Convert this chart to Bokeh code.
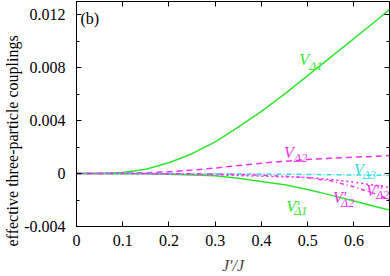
import math
from bokeh.plotting import figure
from bokeh.models import (LinearAxis, FixedTicker, Range1d, Label, Title, ColumnDataSource)
from bokeh.core.properties import value
from bokeh.embed import file_html
from bokeh.resources import INLINE

# ---- data ----
jp = [0, 0.05, 0.1, 0.15, 0.2, 0.25, 0.3, 0.35, 0.4, 0.45, 0.5, 0.55, 0.6, 0.65, 0.677]
v_d1 = [0, 0.00001, 0.00008, 0.00033, 0.00082, 0.0015, 0.0024, 0.0035, 0.0047, 0.0060, 0.0074, 0.0088, 0.0102, 0.0116, 0.0124]
v_d2 = [0, 0, 0.00002, 0.00006, 0.00014, 0.00026, 0.00042, 0.0006, 0.00078, 0.00093, 0.00106, 0.00116, 0.00124, 0.00131, 0.00136]
v_d3 = [0, 0, 0, 0, 0, -0.00001, -0.00002, -0.00003, -0.00004, -0.00005, -0.00007, -0.00009, -0.00011, -0.00013, -0.00014]
vpp_d2 = [0, 0, 0, -0.00001, -0.00003, -0.00006, -0.0001, -0.00015, -0.0002, -0.00025, -0.0003, -0.00045, -0.00065, -0.0009, -0.00105]
vp_d2 = [0, 0, 0, 0, -0.00001, -0.00002, -0.00004, -0.00007, -0.00012, -0.0002, -0.00032, -0.00055, -0.001, -0.00158, -0.00197]
vp_d1 = [0, 0, -0.00001, -0.00002, -0.00005, -0.0001, -0.00016, -0.00035, -0.0006, -0.00085, -0.0012, -0.00163, -0.00208, -0.00252, -0.00275]

x_ticks = [0, 0.1, 0.2, 0.3, 0.4, 0.5, 0.6]
y_ticks = [-0.004, 0, 0.004, 0.008, 0.012]
y_minor = [-0.002, 0.002, 0.006, 0.010]
y_tick_labels = {-0.004: "-0.004", 0: "0", 0.004: "0.004", 0.008: "0.008", 0.012: "0.012"}

GREEN = "#2ee62e"
MAGENTA = "#ee33ee"
CYAN = "#33dddd"
FONT = "Liberation Serif"

p = figure(width=390, height=276, output_backend="svg", toolbar_location=None,
           x_range=Range1d(0, 0.677), y_range=Range1d(-0.004, 0.013),
           min_border_left=74, min_border_right=1, min_border_top=1, min_border_bottom=48)
p.background_fill_color = "white"
p.border_fill_color = "white"
p.outline_line_color = "black"
p.outline_line_width = 1
p.xgrid.visible = False
p.ygrid.visible = False

def style_axis(ax, labels=True):
    ax.major_tick_in = 5
    ax.major_tick_out = 0
    ax.minor_tick_in = 3
    ax.minor_tick_out = 0
    ax.axis_line_color = "black"
    ax.major_tick_line_color = "black"
    ax.minor_tick_line_color = "black"
    ax.major_label_text_font = FONT
    ax.major_label_text_font_size = "16px"
    ax.major_label_text_color = "black"
    if not labels:
        ax.major_label_text_color = None
        ax.major_label_standoff = 0

p.xaxis.ticker = FixedTicker(ticks=x_ticks)
p.yaxis.ticker = FixedTicker(ticks=y_ticks, minor_ticks=y_minor)
p.xaxis.major_label_overrides = {t: ("0" if t == 0 else f"{t:.1f}") for t in x_ticks}
p.yaxis.major_label_overrides = y_tick_labels
style_axis(p.xaxis[0])
style_axis(p.yaxis[0])
p.xaxis.major_label_standoff = 8
p.yaxis.major_label_standoff = 11
p.xaxis.axis_label = "J'/J"
p.xaxis.axis_label_text_font = FONT
p.xaxis.axis_label_text_font_style = "italic"
p.xaxis.axis_label_text_font_size = "16px"
p.xaxis.axis_label_standoff = 8

top = LinearAxis(ticker=FixedTicker(ticks=x_ticks))
style_axis(top, labels=False)
p.add_layout(top, "above")
right = LinearAxis(ticker=FixedTicker(ticks=y_ticks, minor_ticks=y_minor))
style_axis(right, labels=False)
p.add_layout(right, "right")

# y-axis title as a side title; "left" alignment lets the offset move it down
ytitle = Title(text="effective three-particle couplings", align="left", offset=-20,
               text_font=FONT, text_font_size="16px", text_font_style="normal",
               text_color="black", standoff=2)
p.add_layout(ytitle, "left")

# ---- curves ----
p.line(jp, v_d1, line_color=GREEN, line_width=1.5)
p.line(jp, vp_d1, line_color=GREEN, line_width=1.5)
p.line(jp, v_d2, line_color=MAGENTA, line_width=1.5, line_dash="6 4")
p.line(jp, v_d3, line_color=CYAN, line_width=1.5, line_dash="5 2 1 2")
p.line(jp, vpp_d2, line_color=MAGENTA, line_width=1.5, line_dash="2 3")
p.line(jp, vp_d2, line_color=MAGENTA, line_width=1.5, line_dash="4 3 1 3")

# ---- curve labels ----
lab_main = ["V", "V", "V", "V''", "V'", "V'"]
lab_sub = ["Δ1", "Δ2", "Δ3", "Δ2", "Δ2", "Δ1"]
lab_color = [GREEN, MAGENTA, CYAN, MAGENTA, MAGENTA, GREEN]
lab_x = [0.482, 0.449, 0.600, 0.626, 0.555, 0.4537]
lab_y = [0.0086, 0.00157, 0.0003, -0.00127, -0.0018, -0.00247]
sub_dx = [10, 10, 9, 10, 8, 8]
sub_dy = [6, 5, 5, 5, 6, 5]

src = ColumnDataSource(dict(x=lab_x, y=lab_y, main=lab_main, sub=lab_sub,
                            color=lab_color, dx=sub_dx, dy=sub_dy))
p.text(x="x", y="y", text="main", text_color="color", source=src,
       text_font=value(FONT), text_font_style="italic", text_font_size="16px",
       text_baseline="alphabetic", text_align="left")
p.text(x="x", y="y", text="sub", text_color="color", source=src,
       x_offset="dx", y_offset="dy",
       text_font=value(FONT), text_font_style="italic", text_font_size="12px",
       text_baseline="alphabetic", text_align="left")

# panel tag (kept inside the frame, where annotations are drawn)
p.add_layout(Label(x=4, y=208, x_units="screen", y_units="screen", text="(b)",
                   text_align="left", text_baseline="alphabetic",
                   text_font=FONT, text_font_size="16px", text_color="black"))

open("out.html", "w").write(file_html(p, INLINE))
